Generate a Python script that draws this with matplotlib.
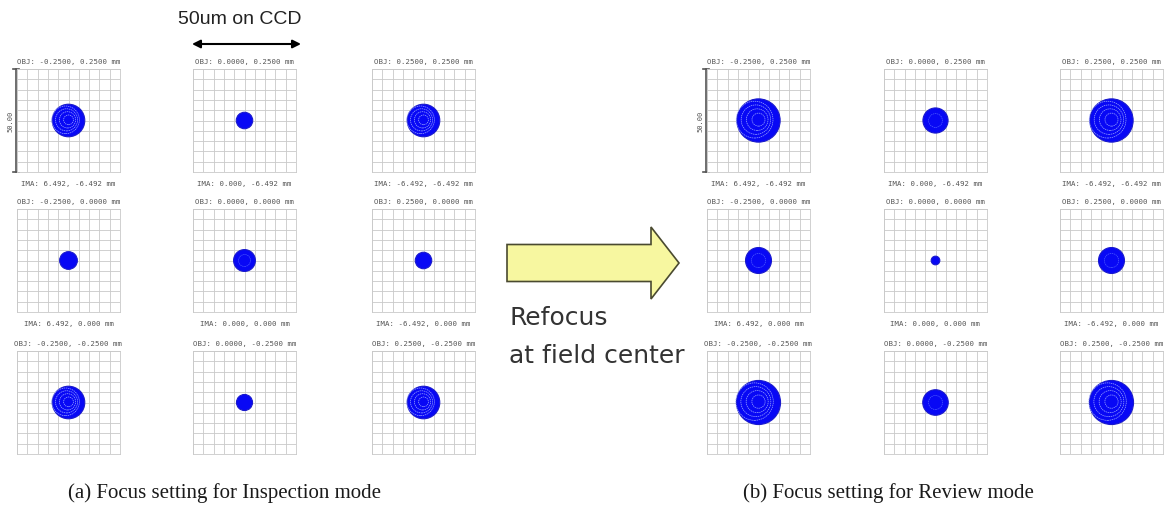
#!/usr/bin/env python3
"""
Spot diagrams for the two focus settings (inspection vs review mode),
drawn as two 3x3 grids with a "refocus" arrow in between.
"""
import matplotlib
matplotlib.use("Agg")
import matplotlib.pyplot as plt
from matplotlib.patches import Circle, FancyArrow

W, H = 1167, 510

# Field positions (object side, mm) and image positions (mm)
obj_x = ["-0.2500", "0.0000", "0.2500"]
obj_y = ["0.2500", "0.0000", "-0.2500"]
ima_x = ["6.492", "0.000", "-6.492"]
ima_y = ["-6.492", "0.000", "6.492"]

# RMS-ish spot radius in um (rows top->bottom)
spot_inspection = [[7.9, 4.0, 7.9],
                   [4.3, 5.3, 4.0],
                   [7.9, 3.9, 7.9]]
spot_review = [[10.5, 6.1, 10.5],
               [6.3, 2.1, 6.3],
               [10.7, 6.2, 10.7]]

box_um = 50.0  # width of the spot diagram box
captions = ["(a) Focus setting for Inspection mode",
            "(b) Focus setting for Review mode"]

fig = plt.figure(figsize=(W / 100, H / 100), dpi=100)
fig.patch.set_facecolor("white")

# overlay axes in pixel coordinates for text and arrows
ov = fig.add_axes([0, 0, 1, 1])
ov.set_xlim(0, W)
ov.set_ylim(H, 0)
ov.axis("off")

cell = 103
col_left = {0: [17, 193, 372], 1: [707, 884, 1060]}
row_top = [70, 210, 352]
mono = "DejaVu Sans Mono"


def draw_spot(ax, r):
    ax.add_patch(Circle((0, 0), r, facecolor="#0808f5", edgecolor="#1a1acc",
                        lw=0.8, zorder=3))
    if r >= 7:
        for k, f in enumerate([0.3, 0.5, 0.68, 0.85]):
            ax.add_patch(Circle((-0.06 * r * k, 0.04 * r), r * f, fill=False,
                                edgecolor="#9aa6ff", lw=0.5, ls=(0, (2, 1)),
                                zorder=4))
    elif r >= 5:
        ax.add_patch(Circle((0, 0), r * 0.55, fill=False, edgecolor="#4d5dff",
                            lw=0.5, ls=(0, (2, 1)), zorder=4))


for g, spots in enumerate([spot_inspection, spot_review]):
    for i in range(3):
        for j in range(3):
            x0 = col_left[g][j]
            y0 = row_top[i]
            ax = fig.add_axes([x0 / W, 1 - (y0 + cell) / H, cell / W, cell / H])
            ax.set_xlim(-box_um / 2, box_um / 2)
            ax.set_ylim(-box_um / 2, box_um / 2)
            ticks = [-25 + 5 * k for k in range(11)]
            ax.set_xticks(ticks)
            ax.set_yticks(ticks)
            ax.tick_params(length=0, labelbottom=False, labelleft=False)
            ax.grid(True, color="#c9c9c9", lw=0.6)
            for s in ax.spines.values():
                s.set_color("#c9c9c9")
                s.set_linewidth(0.6)
            ax.set_axisbelow(True)
            draw_spot(ax, spots[i][j])

            cx = x0 + cell / 2
            ov.text(cx, y0 - 8, "OBJ: %s, %s mm" % (obj_x[j], obj_y[i]),
                    ha="center", va="center", fontsize=5.3, family=mono,
                    color="#555555")
            if i < 2:
                ov.text(cx, y0 + cell + 11, "IMA: %s, %s mm" % (ima_x[j], ima_y[i]),
                        ha="center", va="center", fontsize=5.3, family=mono,
                        color="#555555")

    # scale bar at the first cell
    bx = col_left[g][0] - 1
    ov.plot([bx, bx], [row_top[0], row_top[0] + cell], color="#555555", lw=1.2)
    for yy in (row_top[0], row_top[0] + cell):
        ov.plot([bx - 3, bx + 3], [yy, yy], color="#555555", lw=1.2)
    ov.text(bx - 6, row_top[0] + cell / 2, "50.00", rotation=90, ha="center",
            va="center", fontsize=5, family=mono, color="#555555")

    # caption
    cap_x = [224, 888][g]
    ov.text(cap_x, 493, captions[g], ha="center", va="center", fontsize=15,
            family="Liberation Serif", color="#1a1a1a")

# 50um on CCD label with double arrow
ov.text(240, 20, "50um on CCD", ha="center", va="center", fontsize=14,
        family="Liberation Sans", color="#222222")
ov.annotate("", xy=(301, 45), xytext=(192, 45),
            arrowprops=dict(arrowstyle="<|-|>", color="black", lw=1.5,
                            mutation_scale=12, shrinkA=0, shrinkB=0))

# refocus block arrow
ov.add_patch(FancyArrow(507, 264, 172, 0, width=37, head_width=72,
                        head_length=28, length_includes_head=True,
                        facecolor="#f7f7a0", edgecolor="#4a4a30", lw=1.2))
ov.text(509, 325, "Refocus", ha="left", va="baseline", fontsize=18,
        family="DejaVu Sans", color="#333333")
ov.text(509, 363, "at field center", ha="left", va="baseline", fontsize=18,
        family="DejaVu Sans", color="#333333")

fig.savefig("out.png", dpi=100)
